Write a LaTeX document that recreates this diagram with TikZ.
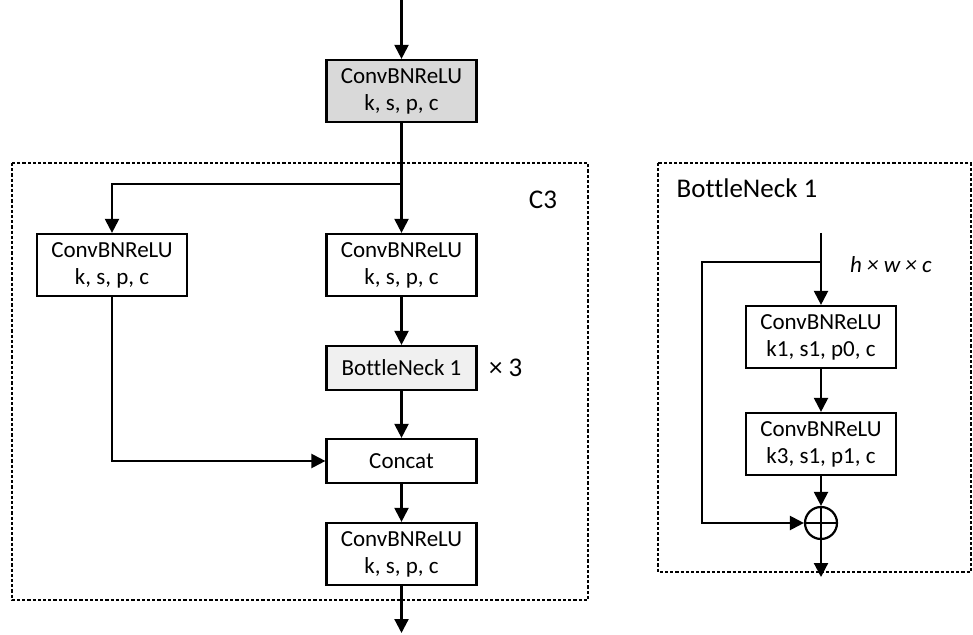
\documentclass[tikz,border=0pt]{standalone}
\usepackage{fontspec}
\setmainfont[Ligatures=NoCommon]{Carlito}
\usetikzlibrary{arrows.meta,positioning,calc}

\begin{document}
\begin{tikzpicture}[x=0.5pt, y=-0.5pt,
  blk/.style={draw=black, line width=1.1pt, fill=white, minimum width=75pt, minimum height=31pt, inner sep=1pt, align=center, font=\fontsize{11.5}{13.5}\selectfont},
  gblk/.style={blk, fill=black!15},
  lblk/.style={blk, fill=black!6, minimum height=22pt},
  arr/.style={-{Triangle[length=7pt, width=7pt]}, line width=1.1pt},
  ln/.style={line width=1.1pt},
  grp/.style={draw=black, line width=0.7pt, dash pattern=on 1.6pt off 1pt},
  lbl/.style={font=\fontsize{13.5}{14}\selectfont}]
\useasboundingbox (0,0) rectangle (973,635);

%% -- C3 block ---------------------------------------------
\draw[grp] (12,163) rectangle (588,600);
\node[lbl] (c3lbl) at (543,200) {C3};

\coordinate (in) at (401.5,0);
\node[gblk] (cbr0) at (401.5,91)  {ConvBNReLU\\k, s, p, c};
\coordinate (split) at (401.5,184);
\node[blk]  (cbrl) at (112,265)   {ConvBNReLU\\k, s, p, c};
\node[blk]  (cbrm) at (401.5,265) {ConvBNReLU\\k, s, p, c};
\node[lblk] (bneck) at (401.5,368) {BottleNeck 1};
\node[lbl, anchor=west] (rep) at (482,368) {× 3};
\node[blk, minimum height=22pt] (cat) at (401.5,461) {Concat};
\node[blk]  (cbro) at (401.5,554) {ConvBNReLU\\k, s, p, c};
\coordinate (out) at (401.5,633);

\draw[arr] (in) -- (cbr0);
\draw[arr] (cbr0) -- (cbrm);
\draw[arr] (split) -| (cbrl.north);
\draw[arr] (cbrm) -- (bneck);
\draw[arr] (bneck) -- (cat);
\draw[arr] (cbrl.south) |- (cat.west);
\draw[arr] (cat) -- (cbro);
\draw[arr] (cbro) -- (out);

%% -- BottleNeck 1 block -----------------------------------
\draw[grp] (658,163) rectangle (971,572);
\node[lbl] (bnlbl) at (747,188) {BottleNeck 1};

\coordinate (bin) at (821,233);
\coordinate (bsplit) at (821,262);
\coordinate (bskip) at (702,262);
\node[font=\fontsize{11.5}{13.5}\selectfont\itshape, anchor=west] (shape) at (843,265) {h × w × c};
\node[blk] (bc1) at (821,337) {ConvBNReLU\\k1, s1, p0, c};
\node[blk] (bc2) at (821,444) {ConvBNReLU\\k3, s1, p1, c};
\node[circle, draw=black, line width=1.1pt, minimum size=16pt, inner sep=0pt] (add) at (821,523) {};
\draw[ln] (add.north) -- (add.south) (add.west) -- (add.east);
\coordinate (bout) at (821,577);

\draw[arr] (bin) -- (bc1);
\draw[arr] (bc1) -- (bc2);
\draw[arr] (bc2) -- (add);
\draw[arr] (bsplit) -- (bskip) |- (add.west);
\draw[arr] (add) -- (bout);
\end{tikzpicture}
\end{document}
